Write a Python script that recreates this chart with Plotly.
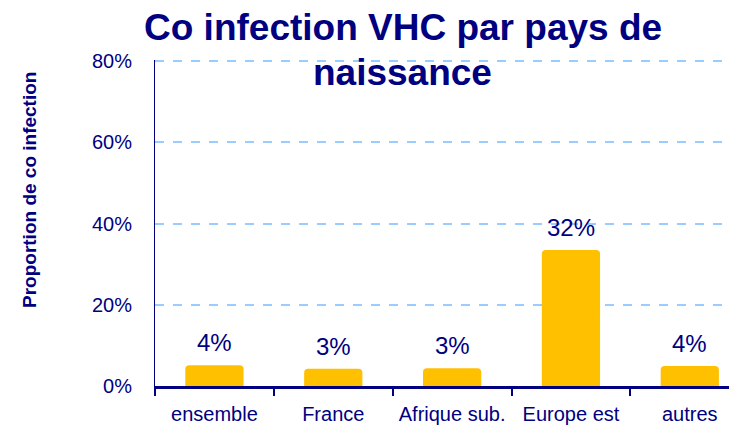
import plotly.graph_objects as go

categories = ["ensemble", "France", "Afrique sub.", "Europe est", "autres"]
values = [5.1, 4.25, 4.4, 33.5, 4.9]
labels = ["4%", "3%", "3%", "32%", "4%"]
y_ticks = [0, 20, 40, 60, 80]
title_lines = ["Co infection VHC par pays de", "naissance"]

NAVY = "#000080"
GOLD = "#FFC000"
GRID = "#99CCFF"
FONT = "Liberation Sans, Arial, sans-serif"

fig = go.Figure()
fig.add_trace(go.Bar(
    x=categories, y=values, width=0.49,
    marker=dict(color=GOLD, line=dict(width=0), cornerradius=4),
    hoverinfo="skip",
))

for c, v, t in zip(categories, values, labels):
    fig.add_annotation(x=c, y=v, text=t, showarrow=False, yanchor="bottom",
                       yshift=7, font=dict(family=FONT, size=24, color=NAVY))

fig.add_annotation(xref="paper", yref="paper", x=0, y=0.5, xshift=-126, yshift=33,
                   text="<b>Proportion de co infection</b>", textangle=-90,
                   showarrow=False, xanchor="center", yanchor="middle",
                   font=dict(family=FONT, size=19, color=NAVY))

for i, line in enumerate(title_lines):
    fig.add_annotation(xref="paper", yref="paper", x=0.432, y=1,
                       yshift=55 - 45 * i, text=f"<b>{line}</b>",
                       showarrow=False, xanchor="center", yanchor="top",
                       font=dict(family=FONT, size=37, color=NAVY))

fig.update_layout(
    width=729, height=426,
    margin=dict(l=155, r=0, t=60, b=40),
    paper_bgcolor="white", plot_bgcolor="white",
    showlegend=False,
    xaxis=dict(range=[-0.5, 4.33], showline=True, linecolor=NAVY, linewidth=3,
               ticks="outside", tickson="boundaries", ticklen=7, tickwidth=2,
               tickcolor=NAVY, showgrid=False, zeroline=False,
               ticklabelstandoff=8,
               tickfont=dict(family=FONT, size=20, color=NAVY)),
    yaxis=dict(range=[0, 80.3], tickvals=y_ticks,
               ticktext=[f"{v}%" for v in y_ticks],
               showline=True, linecolor=NAVY, linewidth=1, ticks="",
               showgrid=True, gridcolor=GRID, griddash="dash", gridwidth=2,
               zeroline=False, ticklabelstandoff=18,
               tickfont=dict(family=FONT, size=20, color=NAVY)),
)

fig.write_html("out.html", config={"displayModeBar": False},
               post_script="document.body.style.margin='0';")
